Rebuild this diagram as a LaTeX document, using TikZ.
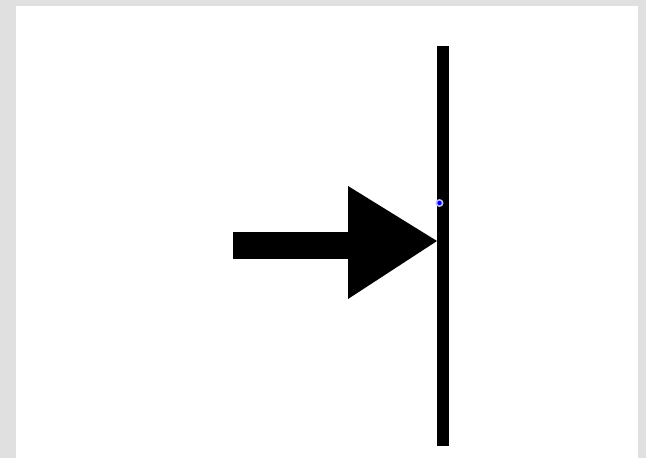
\documentclass[tikz,border=0pt]{standalone}
\begin{document}
\begin{tikzpicture}[x=1pt,y=-1pt]
\definecolor{bg}{HTML}{E0E0E0}
\tikzset{ink/.style={fill=black,draw=none}}
\fill[bg] (0,0) rectangle (646,458);
\useasboundingbox (0,0) rectangle (646,458);
\fill[white] (16,6) rectangle (638,458);
% wall
\coordinate (wtop) at (442.5,46);
\coordinate (wbot) at (442.5,446);
\draw[line width=12pt] (wtop) -- (wbot);
% arrow
\fill[ink] (233,232) rectangle (350,259);
\coordinate (tip) at (437,241);
\fill[ink] (348,186) -- (348,299) -- (tip) -- cycle;
% blue point
\fill[blue!25] (439.5,203) circle (4);
\fill[blue] (439.5,203) circle (2.2);
\end{tikzpicture}
\end{document}
